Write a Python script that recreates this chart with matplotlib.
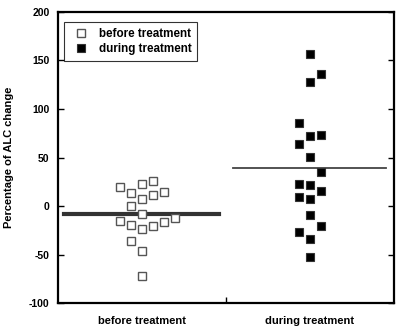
import numpy as np
import matplotlib
matplotlib.use('Agg')
import matplotlib.pyplot as plt

plt.rcParams['font.family'] = ['Liberation Sans', 'DejaVu Sans']

# Data
categories = ['before treatment', 'during treatment']

before_vals = [20, 13, 23, 26, 11, 14, 7, 0, -8, -15, -20, -24, -21, -16, -12, -36, -46, -72]
before_cols = [-2, -1, 0, 1, 1, 2, 0, -1, 0, -2, -1, 0, 1, 2, 3, -1, 0, 0]

during_vals = [157, 136, 128, 86, 72, 73, 64, 51, 35, 23, 22, 16, 9, 7, -9, -21, -27, -34, -52]
during_cols = [0, 1, 0, -1, 0, 1, -1, 0, 1, -1, 0, 1, -1, 0, 0, 1, -1, 0, 0]

before_mean = -8
during_mean = 39

yticks = [-100, -50, 0, 50, 100, 150, 200]

step = 0.065

fig = plt.figure(figsize=(4, 3.32), dpi=100)
ax = fig.add_axes([0.145, 0.087, 0.84, 0.877])

bx = 0.5 + step * np.array(before_cols)
dx = 1.5 + step * np.array(during_cols)

ax.plot(bx, before_vals, 's', ms=6, mfc='white', mec='#555555', mew=1.0,
        ls='none', label='before treatment', zorder=3)
ax.plot(dx, during_vals, 's', ms=6.2, mfc='black', mec='#333333', mew=0.8,
        ls='none', label='during treatment', zorder=3)

# mean lines
ax.plot([0.036, 0.958], [before_mean, before_mean], color='#333333', lw=3, zorder=2)
ax.plot([1.042, 1.952], [during_mean, during_mean], color='#444444', lw=1.3, zorder=2)

ax.set_xlim(0, 2)
ax.set_ylim(-100, 200)
ax.set_yticks(yticks)
ax.set_yticklabels([str(t) for t in yticks], fontweight='bold', fontsize=7.5)
ax.set_xticks([1])
ax.set_xticklabels([''])
ax.tick_params(axis='both', direction='in', length=4, width=1)
ax.tick_params(axis='y', right=True, pad=6)

for s in ax.spines.values():
    s.set_linewidth(1.6)

for i, c in enumerate(categories):
    ax.text(0.5 + i, -113, c, ha='center', va='top', fontsize=8, fontweight='bold')

ax.set_ylabel('Percentage of ALC change', fontsize=8, fontweight='bold', labelpad=11)

leg = ax.legend(loc='upper left', bbox_to_anchor=(0.0, 0.985), frameon=True, fancybox=False,
                edgecolor='black', prop={'weight': 'bold', 'size': 8.4},
                handletextpad=0.5, borderpad=0.5, labelspacing=0.3, handlelength=2.0,
                borderaxespad=0.5)
leg.get_frame().set_linewidth(0.8)

fig.savefig('out.png', dpi=100)
